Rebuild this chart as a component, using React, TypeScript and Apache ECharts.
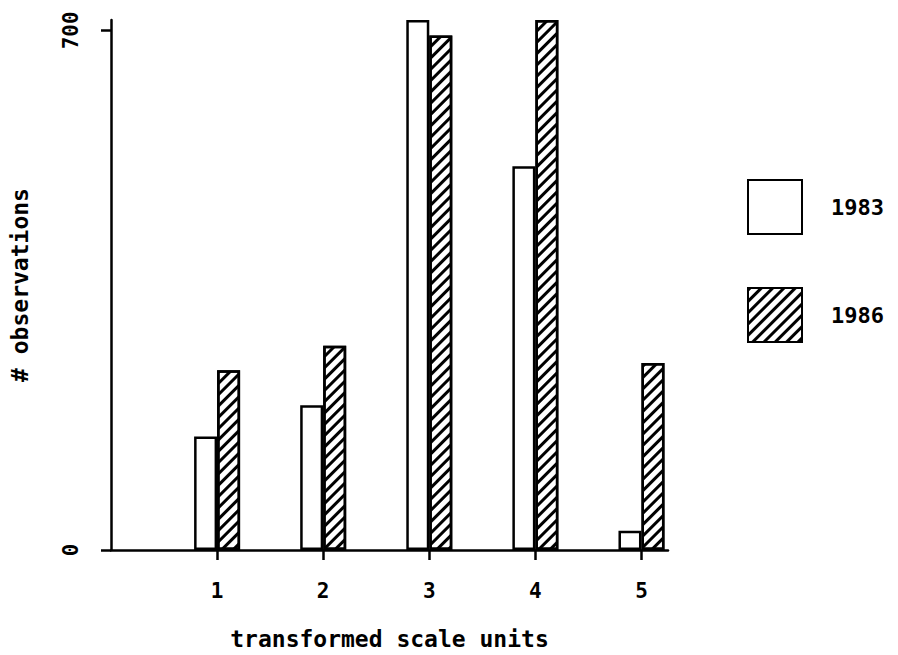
import React, { useEffect, useRef } from "react";
import * as echarts from "echarts";

const categories = [1, 2, 3, 4, 5];
const values1983 = [153, 195, 714, 517, 26];
const values1986 = [242, 275, 693, 714, 252];
const yTickValues = [0, 700];
const seriesNames = ["1983", "1986"];
const xAxisName = "transformed scale units";
const yAxisName = "# observations";

const FONT = "DejaVu Sans Mono";

export default function App() {
  const ref = useRef<HTMLDivElement>(null);
  useEffect(() => {
    if (!ref.current) return;
    const chart = echarts.init(ref.current, undefined, { renderer: "svg" });
    const axisLine = { show: true, lineStyle: { color: "#000", width: 2.5 } };
    const textBase = { fontFamily: FONT, fontWeight: "bold" as const, color: "#000" };
    chart.setOption({
      animation: false,
      backgroundColor: "#fff",
      grid: { left: 111, top: 20, right: 230, bottom: 105, containLabel: false },
      legend: {
        orient: "vertical",
        left: 747,
        top: 179,
        itemWidth: 54,
        itemHeight: 54,
        itemGap: 52,
        padding: 0,
        icon: "rect",
        data: seriesNames,
        textStyle: { ...textBase, fontSize: 22, padding: [0, 0, 0, 24] },
      },
      xAxis: {
        type: "value",
        min: 0,
        max: 5.25,
        interval: 1,
        name: xAxisName,
        nameLocation: "middle",
        nameGap: 77,
        nameTextStyle: { ...textBase, fontSize: 23 },
        axisLine,
        splitLine: { show: false },
        axisTick: {
          show: true,
          length: 10,
          customValues: categories,
          lineStyle: { color: "#000", width: 2.5 },
        },
        axisLabel: {
          ...textBase,
          fontSize: 21,
          margin: 30,
          customValues: categories,
        },
      },
      yAxis: {
        type: "value",
        min: 0,
        max: 714,
        name: yAxisName,
        nameLocation: "middle",
        nameGap: 80,
        nameTextStyle: { ...textBase, fontSize: 23 },
        axisLine,
        splitLine: { show: false },
        axisTick: {
          show: true,
          length: 10,
          customValues: yTickValues,
          lineStyle: { color: "#000", width: 2.5 },
        },
        axisLabel: {
          ...textBase,
          fontSize: 21,
          rotate: 90,
          margin: 30,
          customValues: yTickValues,
        },
      },
      series: [
        {
          name: seriesNames[0],
          type: "bar",
          data: categories.map((c, i) => [c, values1983[i]]),
          barWidth: 23,
          barGap: "0%",
          itemStyle: { color: "#fff", borderColor: "#000", borderWidth: 2.5 },
        },
        {
          name: seriesNames[1],
          type: "bar",
          data: categories.map((c, i) => [c, values1986[i]]),
          barWidth: 23,
          barGap: "0%",
          itemStyle: {
            color: "#fff",
            borderColor: "#000",
            borderWidth: 2.5,
            decal: {
              symbol: "rect",
              symbolSize: 1,
              dashArrayX: [1, 0],
              dashArrayY: [2.5, 4.5],
              rotation: -Math.PI / 4,
              color: "#000",
              backgroundColor: "#fff",
            },
          },
        },
      ],
    });
    return () => chart.dispose();
  }, []);
  return (
    <div
      ref={ref}
      style={{ position: "absolute", left: 0, top: 0, width: 898, height: 655 }}
    />
  );
}
